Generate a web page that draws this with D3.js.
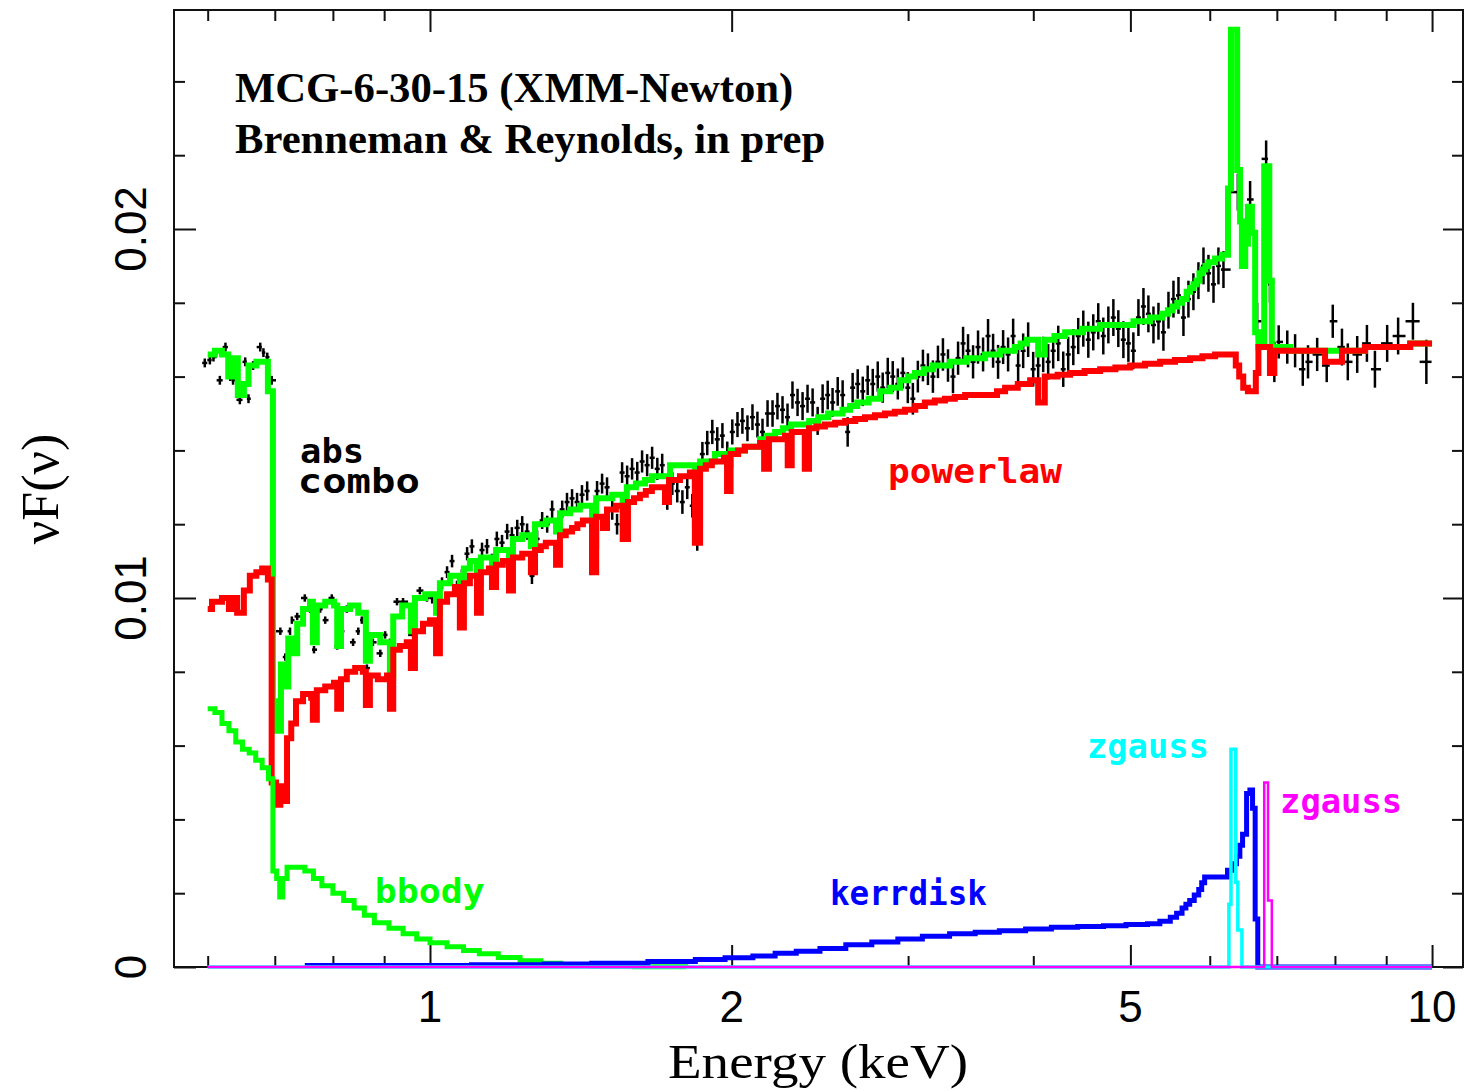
<!DOCTYPE html>
<html lang="en">
<head>
<meta charset="utf-8">
<title>MCG-6-30-15 XMM-Newton spectrum</title>
<script src="https://d3js.org/d3.v7.min.js"></script>
<style>
body { margin: 0; background: #fff; }
svg { display: block; }
.ticks line { stroke: #111; stroke-width: 2; }
.lbl { font-family: "DejaVu Sans Mono", monospace; font-weight: bold; font-size: 33px; }
.num { font-family: "Liberation Sans", Arial, sans-serif; font-size: 44px; fill: #000; }
.ttl { font-family: "Liberation Serif", "Times New Roman", serif; font-weight: bold; font-size: 42.7px; fill: #000; }
</style>
</head>
<body>
<script>

// ---- data (energy in keV, nuF(nu)) ----

// measured spectrum: energies, flux, 1-sigma errors
var dataE = [0.596,0.603,0.608,0.617,0.625,0.632,0.636,0.646,0.654,0.659,0.666,0.677,0.682,0.688,0.695,
  0.709,0.717,0.725,0.728,0.737,0.750,0.759,0.766,0.777,0.786,0.798,0.808,0.817,0.826,0.838,0.848,0.855,0.865,
  0.877,0.892,0.902,0.912,0.927,0.940,0.962,0.977,0.993,
  1.005,1.016,1.028,1.040,1.052,1.064,1.076,1.089,1.101,1.114,1.127,1.140,1.153,1.166,1.180,1.194,1.207,1.222,
  1.236,1.250,1.264,1.279,1.294,1.309,1.324,1.339,1.355,1.370,1.386,1.402,1.418,1.435,1.451,1.468,1.485,1.502,
  1.520,1.537,1.555,1.573,1.591,1.610,1.628,1.647,1.666,1.686,1.705,1.725,1.745,1.765,1.786,1.806,1.827,1.848,
  1.870,1.891,1.913,1.935,1.958,1.980,2.003,2.027,2.050,2.074,2.098,2.122,2.147,2.172,2.197,2.222,2.248,2.274,
  2.300,2.327,2.354,2.381,2.409,2.437,2.465,2.494,2.522,2.552,2.581,2.611,2.641,2.672,2.703,2.734,2.766,2.798,
  2.830,2.863,2.896,2.930,2.964,2.998,3.033,3.068,3.104,3.140,3.176,3.213,3.250,3.288,3.326,3.365,3.404,3.443,
  3.483,3.523,3.564,3.605,3.647,3.689,3.732,3.775,3.819,3.863,3.908,3.953,3.999,4.045,4.092,4.139,4.187,4.236,
  4.285,4.334,4.385,4.435,4.487,4.539,4.591,4.644,4.698,4.753,4.808,4.863,4.920,4.977,5.034,5.093,5.152,5.211,
  5.272,5.333,5.394,5.457,5.520,5.584,5.648,5.713,5.779,5.846,5.914,5.982,6.052,6.121,6.192,
  6.400,6.490,6.583,6.690,6.830,6.890,6.960,7.030,7.170,7.300,7.430,7.520,7.680,7.850,7.960,8.130,8.240,8.420,
  8.610,8.770,9.020,9.250,9.570,9.870];
var dataFlux = [0.01637,0.01645,0.01653,0.0159,0.0168,0.0160,0.0159,0.01537,0.0164,0.0154,0.0163,0.0168,0.01665,0.01653,0.0159,
  0.0091,0.0084,0.0091,0.0094,0.0095,0.0100,0.0097,0.0086,0.0097,0.0094,0.0100,0.0087,0.0091,0.0097,0.0088,0.0091,0.0094,0.0081,
  0.0088,0.0085,0.0090,0.0088,0.0099,0.0099,0.0090,0.0102,0.0100,
  0.0100,0.0097,0.0104,0.0107,0.0110,0.0103,0.0106,0.0112,0.0114,0.0106,0.0113,0.0114,0.0110,0.0116,0.0115,0.0118,0.0117,0.0119,
  0.0120,0.0118,0.0106,0.0116,0.0121,0.0120,0.0124,0.0113,0.0124,0.0126,0.0127,0.0126,0.0128,0.0129,0.0120,0.0129,0.0131,0.0130,
  0.0124,0.0120,0.0134,0.0133,0.0135,0.0134,0.0137,0.0136,0.0138,0.0135,0.0136,0.0127,0.0131,0.0129,0.0126,0.0130,0.0125,0.0116,
  0.0139,0.0142,0.0145,0.0143,0.0144,0.0139,0.0145,0.0147,0.0148,0.0146,0.0149,0.0147,0.0145,0.0150,0.0150,0.0152,0.0151,0.0149,
  0.0155,0.0153,0.0152,0.0154,0.0153,0.0148,0.0154,0.0155,0.0153,0.0156,0.0155,0.0145,0.0157,0.0158,0.0156,0.0159,0.0158,0.0160,
  0.0157,0.0161,0.0160,0.0158,0.0161,0.0157,0.0154,0.0160,0.0163,0.0162,0.0160,0.0164,0.0166,0.0163,0.0160,0.0165,0.0169,0.0167,
  0.0164,0.0168,0.0166,0.0171,0.0167,0.0164,0.0168,0.0166,0.0171,0.0163,0.0167,0.0170,0.0162,0.0163,0.0166,0.0164,0.0167,0.0169,
  0.0162,0.0166,0.0168,0.0171,0.0173,0.0170,0.0172,0.0175,0.0171,0.0174,0.0176,0.0173,0.0170,0.0169,0.0167,0.0176,0.0179,0.0177,
  0.0174,0.0175,0.0172,0.0178,0.0181,0.0182,0.0176,0.0181,0.0183,0.0186,0.0190,0.0188,0.0185,0.0190,0.0189,
  0.0210,0.0197,0.0208,0.0175,0.0219,0.0185,0.0164,0.01694,0.0168,0.0167,0.0162,0.0164,0.0166,0.0163,0.0175,0.0168,0.0164,0.0166,
  0.0169,0.0162,0.0169,0.0171,0.0175,0.0164];
var dataErr = [0.00012,0.00012,0.00012,0.00012,0.00012,0.00012,0.00012,0.00012,0.00012,0.00012,0.00012,0.00012,0.00012,0.00012,0.00012,
  0.0001,0.0001,0.0001,0.0001,0.0001,0.0001,0.0001,0.0001,0.0001,0.0001,0.0001,0.0001,0.0001,0.0001,0.0001,0.0001,0.0001,0.0001,
  0.0001,0.0001,0.0001,0.0001,0.0001,0.0001,0.0001,0.0001,0.0001,
  0.00015,0.00015,0.00016,0.00016,0.00017,0.00017,0.00018,0.00018,0.00019,0.00019,0.0002,0.0002,0.0002,0.0002,0.00021,0.00021,0.00022,0.00022,
  0.00022,0.00022,0.00022,0.00023,0.00023,0.00023,0.00024,0.00024,0.00024,0.00025,0.00025,0.00025,0.00026,0.00026,0.00026,0.00027,0.00027,0.00027,
  0.00028,0.00028,0.00028,0.00029,0.00029,0.00029,0.0003,0.0003,0.0003,0.0003,0.00031,0.00031,0.00031,0.00031,0.00032,0.00032,0.00032,0.00032,
  0.00033,0.00033,0.00033,0.00033,0.00034,0.00034,0.00034,0.00034,0.00035,0.00035,0.00035,0.00035,0.00036,0.00036,0.00036,0.00036,0.00037,0.00037,
  0.00037,0.00037,0.00038,0.00038,0.00038,0.00038,0.00039,0.00039,0.00039,0.00039,0.0004,0.0004,0.0004,0.0004,0.0004,0.0004,0.00041,0.00041,
  0.00041,0.00041,0.00042,0.00042,0.00042,0.00042,0.00043,0.00043,0.00043,0.00043,0.00044,0.00044,0.00044,0.00044,0.00045,0.00045,0.00045,0.00045,
  0.00045,0.00045,0.00046,0.00046,0.00046,0.00046,0.00046,0.00046,0.00047,0.00047,0.00047,0.00047,0.00047,0.00047,0.00048,0.00048,0.00048,0.00048,
  0.00048,0.00048,0.00049,0.00049,0.00049,0.00049,0.00049,0.00049,0.0005,0.0005,0.0005,0.0005,0.0005,0.0005,0.0005,0.0005,0.0005,0.0005,
  0.0005,0.0005,0.0005,0.0005,0.0005,0.0005,0.0005,0.0005,0.0005,0.0005,0.0005,0.0005,0.0005,0.0005,0.0005,
  0.0005,0.0005,0.0005,0.0005,0.0005,0.0005,0.00055,0.00045,0.00045,0.00045,0.00045,0.00045,0.00045,0.00045,0.00045,0.0005,0.0005,0.0005,
  0.0005,0.0005,0.0005,0.0005,0.0005,0.0006];

// total absorbed model ("abs combo"), histogram bins [start energy, value]
var comboModel = [[0.600,0.0166],[0.610,0.0167],[0.620,0.0166],[0.629,0.0160],[0.636,0.0165],[0.643,0.0155],[0.652,0.0158],
  [0.659,0.0163],[0.671,0.0164],[0.683,0.0164],[0.689,0.0156],[0.697,0.0072],[0.703,0.0064],[0.710,0.0082],[0.717,0.0076],
  [0.722,0.0089],[0.730,0.0085],[0.737,0.0093],[0.747,0.0097],[0.759,0.0099],[0.764,0.0088],[0.771,0.0098],[0.786,0.0099],
  [0.802,0.0098],[0.808,0.0087],[0.815,0.0097],[0.832,0.0098],[0.848,0.0096],[0.863,0.0083],[0.871,0.0090],[0.892,0.0088],
  [0.912,0.0079],[0.919,0.0095],[0.938,0.0098],[0.957,0.0091],[0.966,0.0100],[0.989,0.0101],[1.014,0.0096],[1.023,0.0104],
  [1.047,0.0106],[1.071,0.0102],[1.081,0.0108],[1.096,0.0110],[1.114,0.0104],[1.124,0.0111],[1.153,0.0108],[1.164,0.0113],
  [1.199,0.0110],[1.210,0.0116],[1.236,0.0117],[1.261,0.0114],[1.273,0.0120],[1.305,0.0121],[1.336,0.0118],[1.348,0.0123],
  [1.380,0.0124],[1.411,0.0125],[1.451,0.0114],[1.465,0.0127],[1.495,0.0127],[1.520,0.0128],[1.557,0.0124],[1.572,0.0130],
  [1.605,0.0131],[1.639,0.0132],[1.665,0.0133],[1.696,0.0133],[1.736,0.0136],[1.838,0.0120],[1.860,0.0137],[1.925,0.0139],
  [1.979,0.0136],[1.995,0.0140],[2.060,0.0141],[2.135,0.0143],[2.170,0.0144],[2.210,0.0145],[2.250,0.0146],[2.292,0.0147],
  [2.390,0.0148],[2.440,0.0149],[2.496,0.0150],[2.580,0.0151],[2.625,0.0152],[2.669,0.0153],[2.740,0.0154],[2.813,0.0156],
  [2.880,0.0157],[2.945,0.0159],[3.000,0.0160],[3.048,0.0161],[3.110,0.0162],[3.176,0.0163],[3.304,0.0164],[3.430,0.0165],
  [3.580,0.0166],[3.706,0.0167],[3.835,0.0168],[3.885,0.0169],[3.940,0.0170],[4.045,0.0166],[4.107,0.0170],[4.200,0.0171],
  [4.304,0.0172],[4.484,0.0173],[4.664,0.0174],[4.849,0.0174],[5.035,0.0175],[5.232,0.0176],[5.380,0.0177],[5.450,0.0178],
  [5.510,0.0179],[5.570,0.0180],[5.630,0.0181],[5.690,0.0183],[5.735,0.0184],[5.780,0.0185],[5.820,0.0186],[5.860,0.0188],
  [5.900,0.0189],[5.940,0.0190],[5.980,0.0191],[6.074,0.0192],[6.170,0.0193],[6.257,0.0211],[6.300,0.0254],[6.390,0.0216],
  [6.433,0.0202],[6.460,0.0190],[6.510,0.0196],[6.550,0.0206],[6.610,0.0199],[6.660,0.0172],[6.710,0.0168],[6.800,0.0217],
  [6.880,0.0186],[6.920,0.0168],[7.220,0.0167],[7.730,0.0167],[8.130,0.0167],[8.570,0.0168],[9.080,0.0168],[9.510,0.0169],
  [10.00,0.0169]];

// absorbed power law component
var powerlawModel = [[0.600,0.0097],[0.606,0.0099],[0.614,0.0099],[0.620,0.0100],[0.630,0.0097],[0.636,0.0100],[0.642,0.0096],
  [0.652,0.0102],[0.661,0.0106],[0.671,0.0107],[0.680,0.0108],[0.689,0.0105],[0.695,0.0050],[0.702,0.0044],[0.709,0.0049],
  [0.715,0.0045],[0.720,0.0062],[0.727,0.0066],[0.735,0.0072],[0.747,0.0074],[0.761,0.0073],[0.764,0.0067],[0.771,0.0075],
  [0.786,0.0076],[0.802,0.0077],[0.808,0.0070],[0.815,0.0078],[0.826,0.0080],[0.842,0.0081],[0.857,0.0080],[0.863,0.0071],
  [0.871,0.0079],[0.887,0.0078],[0.906,0.0079],[0.912,0.0070],[0.919,0.0086],[0.933,0.0087],[0.948,0.0088],[0.957,0.0081],
  [0.966,0.0091],[0.984,0.0093],[1.000,0.0094],[1.014,0.0085],[1.023,0.0099],[1.040,0.0101],[1.059,0.0103],[1.071,0.0092],
  [1.081,0.0104],[1.096,0.0106],[1.114,0.0096],[1.124,0.0107],[1.145,0.0108],[1.153,0.0103],[1.164,0.0109],[1.182,0.0110],
  [1.199,0.0102],[1.210,0.0111],[1.236,0.0112],[1.261,0.0107],[1.273,0.0113],[1.290,0.0114],[1.305,0.0115],[1.336,0.0109],
  [1.348,0.0117],[1.366,0.0118],[1.386,0.0119],[1.403,0.0120],[1.421,0.0121],[1.451,0.0107],[1.465,0.0122],[1.488,0.0119],
  [1.502,0.0124],[1.533,0.0125],[1.557,0.0116],[1.576,0.0126],[1.598,0.0127],[1.620,0.0128],[1.642,0.0129],[1.665,0.0130],
  [1.716,0.0126],[1.732,0.0132],[1.776,0.0133],[1.817,0.0134],[1.838,0.0115],[1.860,0.0135],[1.885,0.0136],[1.911,0.0137],
  [1.965,0.0138],[1.979,0.0129],[1.995,0.0139],[2.030,0.0140],[2.062,0.0141],[2.135,0.0142],[2.155,0.0135],[2.179,0.0143],
  [2.261,0.0144],[2.275,0.0136],[2.296,0.0145],[2.351,0.0145],[2.366,0.0135],[2.389,0.0146],[2.430,0.01465],[2.478,0.0147],
  [2.537,0.01475],[2.596,0.0148],[2.657,0.01485],[2.717,0.0149],[2.780,0.01495],[2.845,0.0150],[2.910,0.01505],[2.979,0.0151],
  [3.050,0.0152],[3.118,0.0153],[3.190,0.01535],[3.265,0.0154],[3.340,0.01545],[3.420,0.0155],[3.622,0.0155],[3.680,0.0156],
  [3.749,0.0157],[3.860,0.0158],[3.971,0.0159],[4.045,0.0153],[4.107,0.0160],[4.230,0.01605],[4.353,0.0161],[4.500,0.01615],
  [4.664,0.0162],[4.830,0.01625],[4.997,0.0163],[5.170,0.01635],[5.353,0.0164],[5.540,0.01645],[5.735,0.0165],[5.900,0.01655],
  [6.074,0.0166],[6.370,0.0163],[6.420,0.0160],[6.480,0.0157],[6.550,0.0156],[6.670,0.0161],[6.710,0.0168],[6.890,0.0161],
  [6.960,0.0167],[7.220,0.0167],[7.820,0.0164],[8.130,0.0167],[8.570,0.0168],[9.080,0.0168],[9.510,0.0169],[10.00,0.0169]];

// black body component
var bbodyModel = [[0.600,0.0070],[0.610,0.0069],[0.620,0.0066],[0.630,0.0064],[0.640,0.0061],[0.650,0.0059],[0.660,0.0058],
  [0.670,0.0056],[0.680,0.0054],[0.690,0.0051],[0.697,0.0026],[0.703,0.0024],[0.708,0.0019],[0.713,0.0024],[0.720,0.0027],
  [0.735,0.0027],[0.750,0.0026],[0.765,0.0024],[0.780,0.0022],[0.800,0.0020],[0.820,0.0018],[0.840,0.0016],[0.860,0.0014],
  [0.880,0.0012],[0.910,0.00105],[0.940,0.0009],[0.970,0.00076],[1.00,0.00066],[1.04,0.00055],[1.08,0.00045],[1.12,0.00036],
  [1.17,0.00026],[1.23,0.00017],[1.29,0.0001],[1.35,0.00006],[1.45,0.00003],[1.60,0.00001],[1.80,0]];

// relativistic disk line
var kerrdiskModel = [[0.75,0.00004],[1.10,0.00006],[1.30,0.00008],[1.45,0.0001],[1.65,0.00015],[1.84,0.0002],[1.97,0.00025],
  [2.10,0.0003],[2.21,0.00037],[2.32,0.00043],[2.45,0.0005],[2.60,0.0006],[2.76,0.00068],[2.93,0.00076],[3.10,0.00083],
  [3.30,0.0009],[3.50,0.00094],[3.70,0.00098],[3.93,0.00103],[4.17,0.00108],[4.43,0.0011],[4.70,0.00112],[4.95,0.00115],
  [5.20,0.00117],[5.35,0.00124],[5.48,0.00135],[5.56,0.00146],[5.63,0.0016],[5.68,0.0017],[5.73,0.0018],[5.79,0.00195],
  [5.85,0.0021],[5.89,0.00228],[5.93,0.00244],[6.10,0.00244],[6.25,0.00262],[6.32,0.0028],[6.38,0.0030],[6.43,0.0033],
  [6.47,0.0036],[6.53,0.0047],[6.58,0.0048],[6.62,0.0043],[6.66,0.0013],[6.70,0],[10.00,0]];

// narrow gaussian lines
var gaussCyanModel = [[0.600,0],[6.27,0.0017],[6.30,0.0059],[6.37,0.0023],[6.40,0.0010],[6.46,0],[10.00,0]];
var gaussMagentaModel = [[0.600,0],[6.80,0.0050],[6.86,0.0018],[6.92,0],[10.00,0]];

// axis ticks
var xMajorTicks = [1, 2, 5, 10];
var xMinorTicks = [0.6, 0.7, 0.8, 0.9, 3, 4, 6, 7, 8, 9];
var xTickLabels = ["1", "2", "5", "10"];
var yMajorTicks = [0, 0.01, 0.02];
var yMinorTicks = [0.002, 0.004, 0.006, 0.008, 0.012, 0.014, 0.016, 0.018, 0.022, 0.024];
var yTickLabels = ["0", "0.01", "0.02"];

// component labels
var labels = [
  {text: "abs",      e: 0.742, v: 0.01366, color: "#000",    len: 64},
  {text: "combo",    e: 0.738, v: 0.01285, color: "#000",    len: 122},
  {text: "powerlaw", e: 2.864, v: 0.01312, color: "#ff0000", len: 174},
  {text: "bbody",    e: 0.881, v: 0.00173, color: "#00ff00", len: 110},
  {text: "kerrdisk", e: 2.507, v: 0.00168, color: "#0000ff", len: 157},
  {text: "zgauss",   e: 4.525, v: 0.00566, color: "#00ffff", len: 122},
  {text: "zgauss",   e: 7.053, v: 0.00417, color: "#ff00ff", len: 122}
];

// ---- chart ----
var w = 1468, h = 1091;
var plotL = 174, plotR = 1463, plotT = 10, plotB = 967;

var x = d3.scaleLog().domain([0.5553, 10.737]).range([plotL, plotR]);
var y = d3.scaleLinear().domain([0, 0.025935]).range([plotB, plotT]);

var svg = d3.select("body").append("svg")
  .attr("width", w)
  .attr("height", h);

// ticks on all four sides, pointing inward
function ticks(axis, tx, ty) {
  svg.append("g")
    .attr("class", "ticks")
    .attr("transform", "translate(" + tx + "," + ty + ")")
    .call(axis)
    .call(function(g) { g.select(".domain").remove(); g.selectAll("text").remove(); });
}
ticks(d3.axisBottom(x).tickValues(xMajorTicks).tickSize(-22), 0, plotB);
ticks(d3.axisBottom(x).tickValues(xMinorTicks).tickSize(-11), 0, plotB);
ticks(d3.axisTop(x).tickValues(xMajorTicks).tickSize(-22), 0, plotT);
ticks(d3.axisTop(x).tickValues(xMinorTicks).tickSize(-11), 0, plotT);
ticks(d3.axisLeft(y).tickValues(yMajorTicks).tickSize(-22), plotL, 0);
ticks(d3.axisLeft(y).tickValues(yMinorTicks).tickSize(-11), plotL, 0);
ticks(d3.axisRight(y).tickValues(yMajorTicks).tickSize(-20), plotR, 0);
ticks(d3.axisRight(y).tickValues(yMinorTicks).tickSize(-11), plotR, 0);

// frame
svg.append("rect")
  .attr("x", plotL).attr("y", plotT)
  .attr("width", plotR - plotL).attr("height", plotB - plotT)
  .attr("fill", "none").attr("stroke", "#111").attr("stroke-width", 2);

// tick labels
svg.selectAll("text.xnum")
  .data(xMajorTicks)
  .enter().append("text")
  .attr("class", "num")
  .attr("x", function(d) { return x(d); })
  .attr("y", 1022)
  .attr("text-anchor", "middle")
  .text(function(d, i) { return xTickLabels[i]; });

svg.selectAll("text.ynum")
  .data(yMajorTicks)
  .enter().append("text")
  .attr("class", "num")
  .attr("transform", function(d) { return "translate(146," + y(d) + ") rotate(-90)"; })
  .attr("text-anchor", "middle")
  .text(function(d, i) { return yTickLabels[i]; });

// axis titles
svg.append("text")
  .attr("x", 818).attr("y", 1078)
  .attr("text-anchor", "middle")
  .attr("font-family", "Liberation Serif, serif")
  .attr("font-size", 48)
  .attr("textLength", 300)
  .attr("lengthAdjust", "spacingAndGlyphs")
  .text("Energy (keV)");

svg.append("text")
  .attr("transform", "translate(58,489) rotate(-90)")
  .attr("text-anchor", "middle")
  .attr("font-family", "Liberation Serif, serif")
  .attr("font-size", 52)
  .text("\u03BDF(\u03BD)");

// title
svg.append("text").attr("class", "ttl").attr("x", 235).attr("y", 102).text("MCG-6-30-15 (XMM-Newton)");
svg.append("text").attr("class", "ttl").attr("x", 235).attr("y", 153).text("Brenneman & Reynolds, in prep");

// data crosses
var pts = dataE.map(function(e, i) {
  var lo = i > 0 ? Math.sqrt(dataE[i - 1] * e) : e / 1.006;
  var hi = i < dataE.length - 1 ? Math.sqrt(dataE[i + 1] * e) : e * 1.012;
  return {e: e, lo: lo, hi: hi, v: dataFlux[i], err: dataErr[i]};
});

var cross = svg.append("g").attr("stroke", "#000").attr("stroke-width", 2.5);
cross.selectAll("line.v")
  .data(pts).enter().append("line")
  .attr("x1", function(d) { return x(d.e); })
  .attr("x2", function(d) { return x(d.e); })
  .attr("y1", function(d) { return y(d.v - d.err); })
  .attr("y2", function(d) { return y(d.v + d.err); });
cross.selectAll("line.h")
  .data(pts).enter().append("line")
  .attr("x1", function(d) { return x(d.lo); })
  .attr("x2", function(d) { return x(d.hi); })
  .attr("y1", function(d) { return y(d.v); })
  .attr("y2", function(d) { return y(d.v); });

// model histograms
var step = d3.line()
  .x(function(d) { return x(d[0]); })
  .y(function(d) { return y(d[1]); })
  .curve(d3.curveStepAfter);

function model(data, color, width) {
  svg.append("path")
    .datum(data)
    .attr("d", step)
    .attr("fill", "none")
    .attr("stroke", color)
    .attr("stroke-width", width)
    .attr("stroke-linejoin", "miter");
}
model(comboModel, "#00ff00", 6);
model(powerlawModel, "#ff0000", 6);
model(bbodyModel, "#00ff00", 5);
model(kerrdiskModel, "#0000ff", 5);
model(gaussCyanModel, "#00ffff", 3.5);
model(gaussMagentaModel, "#ff00ff", 2.5);

// component labels
svg.selectAll("text.lbl")
  .data(labels)
  .enter().append("text")
  .attr("class", "lbl")
  .attr("x", function(d) { return x(d.e); })
  .attr("y", function(d) { return y(d.v); })
  .attr("fill", function(d) { return d.color; })
  .attr("textLength", function(d) { return d.len; })
  .attr("lengthAdjust", "spacingAndGlyphs")
  .text(function(d) { return d.text; });

</script>
</body>
</html>
